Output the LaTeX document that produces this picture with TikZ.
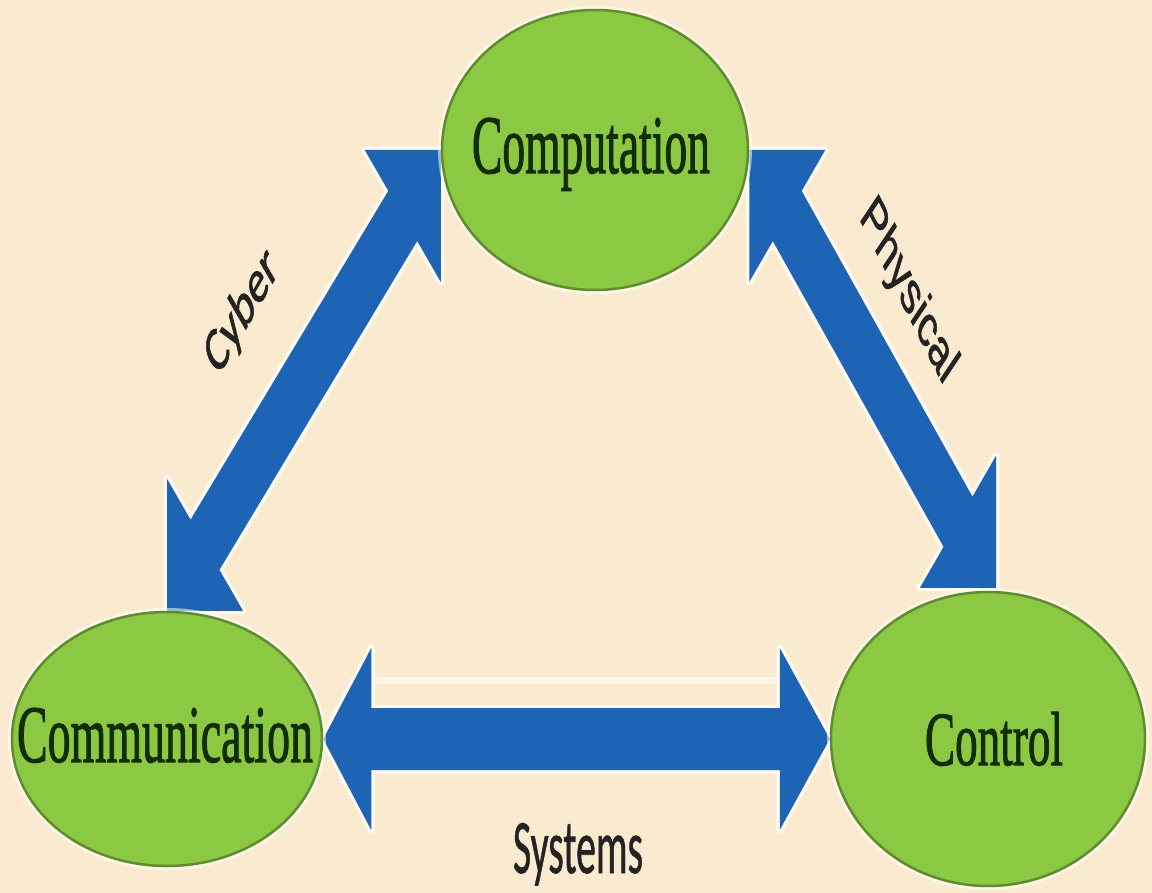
\documentclass[tikz,border=0pt]{standalone}
\usepackage{fontspec}
\setmainfont{Liberation Serif}
\newfontfamily\heavyserif{Liberation Serif}[FakeBold=1.6]
\newfontfamily\calibfont{Carlito}[FakeBold=1.4]
\newfontfamily\sysfont{Carlito}[FakeBold=1.0]
\newfontfamily\arialfont{Liberation Sans}[FakeBold=1.4]
\usetikzlibrary{shapes.geometric,calc}
\definecolor{bgbeige}{RGB}{250,235,208}
\definecolor{arrowblue}{RGB}{30,100,180}
\definecolor{ellgreen}{RGB}{140,201,66}
\definecolor{ellborder}{RGB}{95,140,45}
\definecolor{txtgreen}{RGB}{18,45,6}
\definecolor{lblgray}{RGB}{35,35,35}
\pgfdeclarelayer{backdrop}
\pgfdeclarelayer{arrowlayer}
\pgfsetlayers{backdrop,arrowlayer,main}
\begin{document}
\begin{tikzpicture}[x=1pt,y=-1pt,
  blob/.style={ellipse, fill=ellgreen, draw=ellborder, line width=2.5pt, inner sep=0pt,
    preaction={draw=white, line width=8pt, draw opacity=0.55}},
  blocktxt/.style={anchor=base, inner sep=0pt, text=txtgreen, font=\heavyserif},
  sidelbl/.style={inner sep=0pt, text=lblgray},
  blockarrow/.style={fill=arrowblue,
    preaction={draw=white, line width=7pt, draw opacity=0.7, line join=round}}]
\begin{pgfonlayer}{backdrop}
\fill[bgbeige] (0,0) rectangle (1152,893);
\end{pgfonlayer}
\useasboundingbox (0,0) rectangle (1152,893);

% ellipses
\node[blob, minimum width=306pt, minimum height=280pt] (comp) at (595,150) {};
\node[blob, minimum width=310pt, minimum height=254pt] (commun) at (167,739) {};
\node[blob, minimum width=314pt, minimum height=294pt] (ctrl) at (988,739) {};

% texts in the ellipses
\node[blocktxt] (comptxt) at (591,173) {\resizebox{238pt}{55pt}{Computation}};
\node[blocktxt] (communtxt) at (165,762) {\resizebox{296pt}{54pt}{Communication}};
\node[blocktxt] (ctrltxt) at (994,765) {\resizebox{138pt}{53pt}{Control}};

% arrow anchors
\coordinate (sL) at (commun.east);
\coordinate (sR) at (ctrl.west);
\coordinate (cT1) at (comp.west);
\coordinate (cT2) at (commun.north);
\coordinate (pT1) at (comp.east);
\coordinate (pT2) at ($(ctrl.north)+(8,-3)$);

\begin{pgfonlayer}{arrowlayer}
% Systems arrow
\fill[blockarrow] (sL) -- ($(sL)+(48,-91)$) -- ($(sL)+(48,-31)$) -- ($(sR)+(-50,-31)$)
  -- ($(sR)+(-50,-91)$) -- (sR) -- ($(sR)+(-50,91)$) -- ($(sR)+(-50,31)$)
  -- ($(sL)+(48,31)$) -- ($(sL)+(48,91)$) -- cycle;
\fill[white, opacity=0.45] (372,677) rectangle (778,684);

% Cyber arrow
\coordinate (cA) at ($(cT1)+(-76,0)$);
\coordinate (cB) at ($(cT1)+(0,132)$);
\coordinate (cC1) at ($(cT2)+(0,-132)$);
\coordinate (cC2) at ($(cT2)+(76,0)$);
\fill[blockarrow] (cT1) -- (cB) -- ($(cA)!0.69!(cB)$) -- ($(cC1)!0.69!(cC2)$) -- (cC2)
  -- (cT2) -- (cC1) -- ($(cC1)!0.31!(cC2)$) -- ($(cA)!0.31!(cB)$) -- (cA) -- cycle;

% Physical arrow
\coordinate (pA) at ($(pT1)+(76,0)$);
\coordinate (pB) at ($(pT1)+(0,132)$);
\coordinate (pC1) at ($(pT2)+(0,-132)$);
\coordinate (pC2) at ($(pT2)+(-76,0)$);
\fill[blockarrow] (pT1) -- (pA) -- ($(pA)!0.31!(pB)$) -- ($(pC1)!0.31!(pC2)$) -- (pC1)
  -- (pT2) -- (pC2) -- ($(pC1)!0.69!(pC2)$) -- ($(pA)!0.69!(pB)$) -- (pB) -- cycle;
\end{pgfonlayer}

% labels
\node[sidelbl] (cyber) at (242,312)
  {\scalebox{0.58}[1]{\rotatebox{45}{\calibfont\fontsize{64pt}{64pt}\selectfont Cyber}}};
\node[sidelbl] (physical) at (908,292)
  {\scalebox{0.58}[1]{\rotatebox{-49}{\arialfont\fontsize{60pt}{60pt}\selectfont Physical}}};
\node[sidelbl, anchor=base] (systems) at (578,873)
  {\resizebox{130pt}{50pt}{\sysfont Systems}};
\end{tikzpicture}
\end{document}
